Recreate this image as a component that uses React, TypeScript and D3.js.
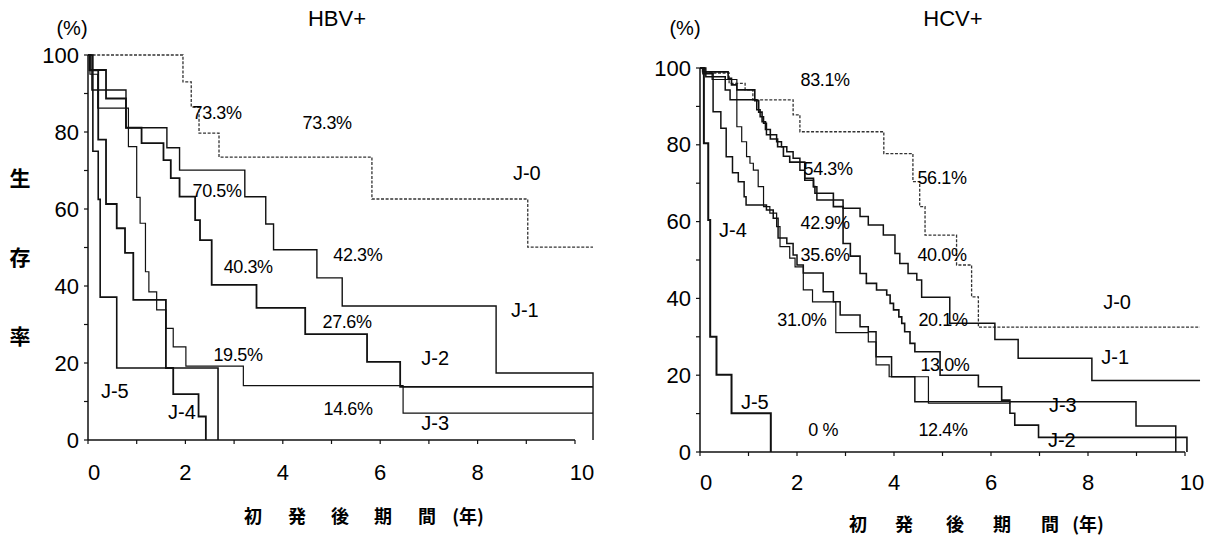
import React from 'react';
import * as d3 from 'd3';

const W = 1212;
const H = 537;

const latin = "'Liberation Sans', Arial, Helvetica, sans-serif";
const cjk = "'Noto Sans CJK JP', 'Noto Sans CJK SC', sans-serif";

// survival steps: [years after first onset, survival %]
// HBV+ (left panel)
const hbvJ0 = [[0, 100], [1.95, 93], [2.12, 86.5], [2.28, 79.7], [2.69, 73.5], [5.83, 62.6], [9.03, 50.1], [10.37, 50.1]];
const hbvJ1 = [[0, 100], [0.08, 90.9], [0.78, 81.1], [1.62, 75.9], [1.88, 70.1], [3.22, 63.2], [3.65, 56.1], [3.81, 49.4], [4.7, 42.1], [5.22, 34.8], [8.38, 17.4], [10.37, 0]];
const hbvJ2 = [[0, 100], [0.03, 96.1], [0.37, 88.7], [0.78, 81.1], [1.1, 77.1], [1.55, 72.7], [1.7, 68], [1.88, 63.2], [2.2, 57.1], [2.3, 51.9], [2.54, 40.3], [3.46, 34.3], [4.46, 27.5], [5.73, 20.3], [6.41, 13.8], [10.37, 13.8]];
const hbvJ3 = [[0, 100], [0.04, 95], [0.2, 86.2], [0.83, 76.2], [1.0, 63], [1.07, 56.3], [1.18, 43.7], [1.25, 38.5], [1.41, 33.8], [1.6, 29], [1.75, 24.2], [2.01, 19.2], [3.19, 14.1], [6.47, 7.0], [10.37, 7.0]];
const hbvJ4 = [[0, 100], [0.04, 96], [0.21, 78], [0.37, 61.3], [0.59, 55], [0.76, 48.6], [0.93, 36.4], [1.6, 18.7], [1.75, 11.9], [2.27, 6.1], [2.42, 0]];
const hbvJ5 = [[0, 100], [0.1, 75], [0.21, 62.5], [0.25, 37.1], [0.59, 18.7], [2.67, 0]];

// HCV+ (right panel)
const hcvJ0 = [[0, 100], [0.1, 98.7], [0.6, 96], [0.93, 94.3], [1.09, 91.7], [1.92, 87.8], [2.06, 83.4], [3.79, 77.7], [4.39, 70.4], [4.53, 63.9], [4.64, 56.5], [5.29, 48.7], [5.6, 40.4], [5.74, 32.5], [10.31, 32.5]];
const hcvJ1 = [[0, 100], [0.12, 97.7], [0.52, 94.3], [0.62, 91.7], [1.17, 89.1], [1.24, 87.3], [1.31, 85.6], [1.37, 82.6], [1.58, 80.8], [1.68, 79.5], [1.79, 78.2], [1.92, 76.5], [2.06, 73.4], [2.16, 70.8], [2.34, 69.1], [2.41, 65.6], [2.95, 63.5], [3.3, 61.3], [3.47, 59.1], [3.78, 56.5], [4.02, 51.7], [4.12, 49.1], [4.29, 46.5], [4.47, 44.8], [4.57, 40.3], [5.15, 33.5], [6.08, 29.3], [6.56, 24.4], [8.08, 18.6], [10.31, 18.6]];
const hcvJ2 = [[0, 100], [0.08, 99], [0.58, 97.3], [0.65, 95.6], [0.76, 94.3], [1.13, 91.5], [1.21, 88.5], [1.28, 86], [1.35, 84], [1.45, 81.5], [1.6, 79.5], [1.72, 77], [1.85, 75.5], [2.16, 71.3], [2.34, 69.1], [2.37, 67.4], [2.75, 63.9], [2.95, 54.3], [3.1, 51], [3.3, 46.5], [3.43, 43.9], [3.64, 42.2], [3.85, 40.9], [3.92, 38.7], [3.99, 37], [4.1, 35.2], [4.16, 33.5], [4.22, 31.3], [4.33, 28.3], [4.43, 26.1], [4.95, 20], [5.74, 17], [6.22, 13.5], [6.39, 10.1], [6.49, 7], [6.98, 3.8], [10.04, 0]];
const hcvJ3 = [[0, 100], [0.06, 98.5], [0.27, 88.6], [0.43, 84.3], [0.54, 76.9], [0.67, 72.7], [0.79, 70.4], [0.91, 66.5], [0.95, 64.3], [1.37, 63], [1.51, 60.9], [1.61, 55.7], [1.79, 54.3], [1.92, 51.3], [2.0, 48.7], [2.13, 46.6], [2.54, 41.7], [2.75, 39.1], [2.89, 35.7], [3.3, 32.6], [3.47, 31.3], [3.63, 24.8], [3.95, 19.6], [4.43, 13.1], [8.99, 6.8], [9.81, 0]];
const hcvJ4 = [[0, 100], [0.05, 99], [0.25, 97], [0.76, 84.7], [0.86, 80.8], [0.96, 76.9], [1.03, 75.2], [1.1, 73.4], [1.2, 69.1], [1.31, 63.9], [1.44, 62.2], [1.58, 58.7], [1.65, 53.5], [1.85, 50.5], [1.96, 48.2], [2.13, 42.2], [2.32, 39.1], [2.8, 31.1], [3.47, 28.7], [3.63, 22.7], [3.9, 19.6], [4.71, 12.7], [6.4, 12.7]];
const hcvJ5 = [[0, 100], [0.08, 80.4], [0.17, 60.4], [0.21, 30], [0.34, 20.1], [0.65, 10.1], [1.46, 0]];

// annotations: [text, years, %]
const hbvPctLabels = [['73.3%', 2.65, 84.9], ['73.3%', 4.91, 82.3], ['70.5%', 2.65, 64.7], ['42.3%', 5.54, 48.1], ['40.3%', 3.29, 44.9], ['27.6%', 5.32, 30.6], ['19.5%', 3.08, 22.1], ['14.6%', 5.34, 8.1]];
const hbvGroupLabels = [['J-0', 9.01, 69.4], ['J-1', 8.97, 33.8], ['J-2', 7.13, 21.3], ['J-3', 7.13, 4.4], ['J-5', 0.55, 12.7], ['J-4', 1.93, 7.3]];
const hcvPctLabels = [['83.1%', 2.58, 96.9], ['54.3%', 2.64, 73.7], ['42.9%', 2.58, 59.6], ['35.6%', 2.58, 51.3], ['31.0%', 2.1, 34.4], ['0 %', 2.54, 5.7], ['56.1%', 4.99, 71.4], ['40.0%', 4.99, 51.3], ['20.1%', 5.01, 34.4], ['13.0%', 5.05, 22.7], ['12.4%', 5.01, 5.7]];
const hcvGroupLabels = [['J-0', 8.6, 39.1], ['J-1', 8.56, 24.7], ['J-3', 7.48, 12.2], ['J-2', 7.46, 3.1], ['J-4', 0.68, 57.8], ['J-5', 1.13, 13.0]];

const yTickLabels = [0, 20, 40, 60, 80, 100];
const xTickLabels = [0, 2, 4, 6, 8, 10];
const yTitleChars = ['生', '存', '率'];
const xTitleChars = ['初', '発', '後', '期', '間', '(年)'];

const dashed = { dash: '3,1.6', width: 1.3, color: '#333' };
const solid = (width) => ({ dash: null, width, color: '#111' });

const Panel = ({ title, range, yRange, curves, styles, pctLabels, groupLabels, titleX, pctX, xTitlePos, xTitleY, xLabelDy }) => {
    const x = d3.scaleLinear().domain([0, 10]).range(range);
    const y = d3.scaleLinear().domain([0, 100]).range(yRange);
    const line = d3.line().x(d => x(d[0])).y(d => y(d[1])).curve(d3.curveStepAfter);
    const x0 = x(0);
    const y0 = y(0);

    return (
        <g>
            <text x={titleX} y={18} fontSize={22} fontFamily={latin} textAnchor="middle" dominantBaseline="central">{title}</text>
            <text x={pctX} y={28} fontSize={20} fontFamily={latin} textAnchor="middle" dominantBaseline="central">(%)</text>

            {/* axes */}
            <line x1={x0} x2={x0} y1={y(100)} y2={y0} stroke="#111" strokeWidth={1.5} />
            <line x1={x0} x2={x(10)} y1={y0} y2={y0} stroke="#111" strokeWidth={1.5} />
            {d3.range(0, 101, 10).map(v => (
                <line key={'yt' + v} x1={x0 - 4} x2={x0} y1={y(v)} y2={y(v)} stroke="#111" strokeWidth={1.2} />
            ))}
            {d3.range(0, 11, 1).map(v => (
                <line key={'xt' + v} x1={x(v)} x2={x(v)} y1={y0} y2={y0 + 4} stroke="#111" strokeWidth={1.2} />
            ))}
            {yTickLabels.map(v => (
                <text key={'yl' + v} x={x0 - 9} y={y(v)} fontSize={22} fontFamily={latin} textAnchor="end" dominantBaseline="central">{v}</text>
            ))}
            {xTickLabels.map(v => (
                <text key={'xl' + v} x={x(v) + (v === 0 ? 6 : v === 10 ? 7 : 0)} y={y0 + xLabelDy} fontSize={22} fontFamily={latin} textAnchor="middle" dominantBaseline="central">{v}</text>
            ))}
            {xTitleChars.map((c, i) => (
                <text key={'xc' + i} x={xTitlePos[i]} y={xTitleY} fontSize={18} fontWeight="bold" fontFamily={cjk} textAnchor="middle" dominantBaseline="central">{c}</text>
            ))}

            {/* survival curves */}
            {curves.map((c, i) => (
                <path key={'c' + i} d={line(c)} fill="none" stroke={styles[i].color} strokeWidth={styles[i].width}
                      strokeDasharray={styles[i].dash || undefined} />
            ))}

            {pctLabels.map((l, i) => (
                <text key={'p' + i} x={x(l[1])} y={y(l[2])} fontSize={18} fontFamily={latin} textAnchor="middle" dominantBaseline="central" letterSpacing={-0.4}>{l[0]}</text>
            ))}
            {groupLabels.map((l, i) => (
                <text key={'g' + i} x={x(l[1])} y={y(l[2])} fontSize={20} fontFamily={latin} textAnchor="middle" dominantBaseline="central">{l[0]}</text>
            ))}
        </g>
    );
};

export default function App() {
    return (
        <svg width={W} height={H} style={{ position: 'absolute', left: 0, top: 0, background: '#fff' }}>
            {yTitleChars.map((c, i) => (
                <text key={c} x={20} y={177 + i * 79} fontSize={21} fontWeight="bold" fontFamily={cjk} textAnchor="middle" dominantBaseline="central">{c}</text>
            ))}
            <Panel
                title="HBV+" titleX={337} pctX={72}
                range={[88, 575]} yRange={[440, 55]}
                curves={[hbvJ0, hbvJ1, hbvJ2, hbvJ3, hbvJ4, hbvJ5]}
                styles={[dashed, solid(1.4), solid(1.8), solid(1.2), solid(1.8), solid(1.6)]}
                pctLabels={hbvPctLabels} groupLabels={hbvGroupLabels}
                xTitlePos={[253, 297, 340, 383, 427, 468]} xTitleY={515} xLabelDy={32}
            />
            <Panel
                title="HCV+" titleX={953} pctX={685}
                range={[700, 1185]} yRange={[452, 68]}
                curves={[hcvJ0, hcvJ1, hcvJ2, hcvJ3, hcvJ4, hcvJ5]}
                styles={[dashed, solid(1.5), solid(1.6), solid(1.5), solid(1.2), solid(2)]}
                pctLabels={hcvPctLabels} groupLabels={hcvGroupLabels}
                xTitlePos={[858, 904, 955, 1002, 1050, 1088]} xTitleY={523} xLabelDy={30}
            />
        </svg>
    );
}
